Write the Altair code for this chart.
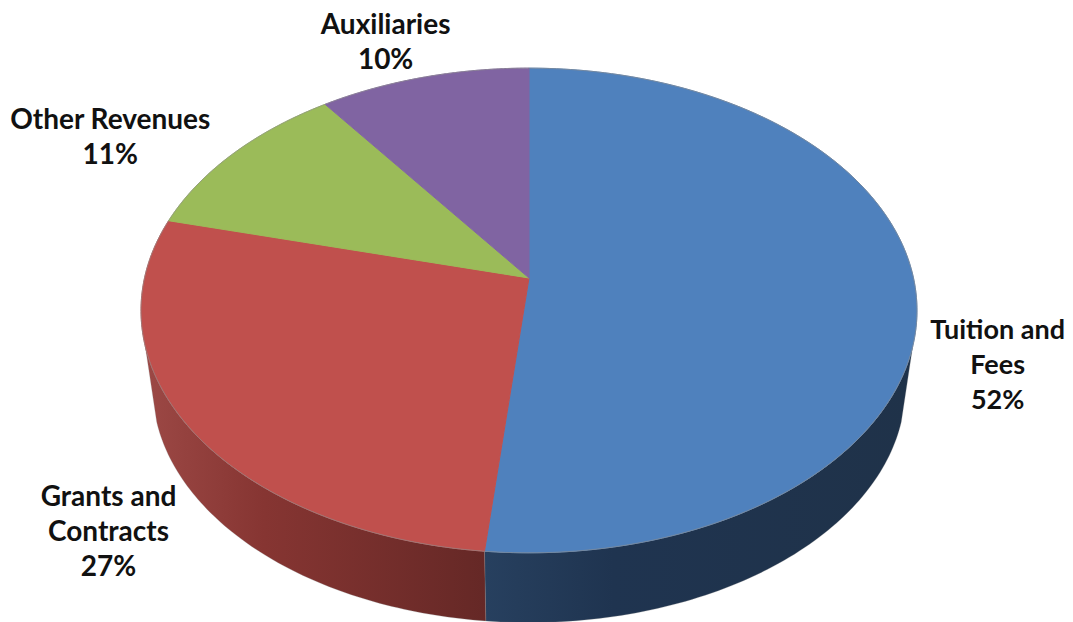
import numpy as np
import pandas as pd
import altair as alt

CATEGORIES = ["Tuition and Fees", "Grants and Contracts", "Other Revenues", "Auxiliaries"]
SHARES = [51.6, 27.4, 11, 10]
LABELS = ["Tuition and\nFees\n52%", "Grants and\nContracts\n27%", "Other Revenues\n11%", "Auxiliaries\n10%"]
COLORS = ["#4F81BD", "#C0504D", "#9BBB59", "#8064A2"]

# perspective of the tilted disc (image pixels)
CX, CY, RX, RY, K = 529.0, 278.0, 384.5, 238.0, -0.134
W_SCALE, W_DROP = 0.97, 78.0
W_LEFT, W_RIGHT = 254.0, 106.0   # silhouette angles of the wall

X_SCALE = alt.Scale(domain=[8, 1065], nice=False, zero=False)
Y_SCALE = alt.Scale(domain=[622, 8], nice=False, zero=False)


def project(deg, scale=1.0, drop=0.0):
    t = np.radians(deg)
    u, v = np.sin(t), -np.cos(t)
    d = 1 + K * v
    return CX + scale * RX * u / d, CY + drop + scale * RY * v / d


def outline(points):
    xs, ys = points
    return pd.DataFrame({"x": xs, "y": ys, "i": np.arange(len(xs))})


def shape(df, **mark):
    return alt.Chart(df).mark_line(clip=True, interpolate="linear", **mark).encode(
        x=alt.X("x:Q", axis=None, scale=X_SCALE),
        y=alt.Y("y:Q", axis=None, scale=Y_SCALE),
        order="i:Q",
    )


def wall(a0, a1, stops):
    angles = np.linspace(a0, a1, 80)
    tx, ty = project(angles)
    bx, by = project(angles[::-1], W_SCALE, W_DROP)
    xs = np.r_[tx, bx, tx[0]]
    ys = np.r_[ty, by, ty[0]]
    grad = alt.LinearGradient(
        gradient="linear", x1=0, x2=1, y1=0, y2=0,
        stops=[alt.GradientStop(color=c, offset=o) for o, c in stops],
    )
    return shape(outline((xs, ys)), fill=grad, stroke="#8a8a8a", strokeWidth=0.5, strokeOpacity=0.5)


edges = np.cumsum([0] + SHARES) / sum(SHARES) * 360.0
layers = [
    wall(W_RIGHT, edges[1], [(0, "#27405f"), (0.3, "#1f3450"), (1, "#1f3249")]),
    wall(edges[1], W_LEFT, [(0, "#9c4845"), (0.35, "#863532"), (1, "#652826")]),
]
for s, color in enumerate(COLORS):
    angles = np.linspace(edges[s], edges[s + 1], 160)
    ax, ay = project(angles)
    xs = np.r_[CX, ax, CX]
    ys = np.r_[CY, ay, CY]
    layers.append(shape(outline((xs, ys)), fill=color, stroke=color, strokeWidth=1))

# thin grey rim of the disc
rim_angles = np.linspace(0, 360, 361)
layers.append(shape(outline(project(rim_angles)), stroke="#8c8c8c", strokeWidth=1, strokeOpacity=0.6))

OFFSETS = [(82, 41), (-79, 72), (-123, -33), (-38, -51)]
SIZES = [27, 28, 28, 28]
for s, text in enumerate(LABELS):
    mid = (edges[s] + edges[s + 1]) / 2
    px, py = project(mid)
    df = pd.DataFrame({"x": [px], "y": [py], "t": [text]})
    layers.append(
        alt.Chart(df).mark_text(
            font="Lato", fontWeight="bold", fontSize=SIZES[s], lineBreak="\n", lineHeight=35,
            align="center", baseline="middle", color="#111111",
            dx=OFFSETS[s][0], dy=OFFSETS[s][1],
        ).encode(
            x=alt.X("x:Q", axis=None, scale=X_SCALE),
            y=alt.Y("y:Q", axis=None, scale=Y_SCALE),
            text="t:N",
        )
    )

chart = alt.layer(*layers).properties(width=1057, height=614, padding=0, background="white").configure_view(stroke=None)
chart.save("out.html", embed_options={"renderer": "svg", "actions": False})
